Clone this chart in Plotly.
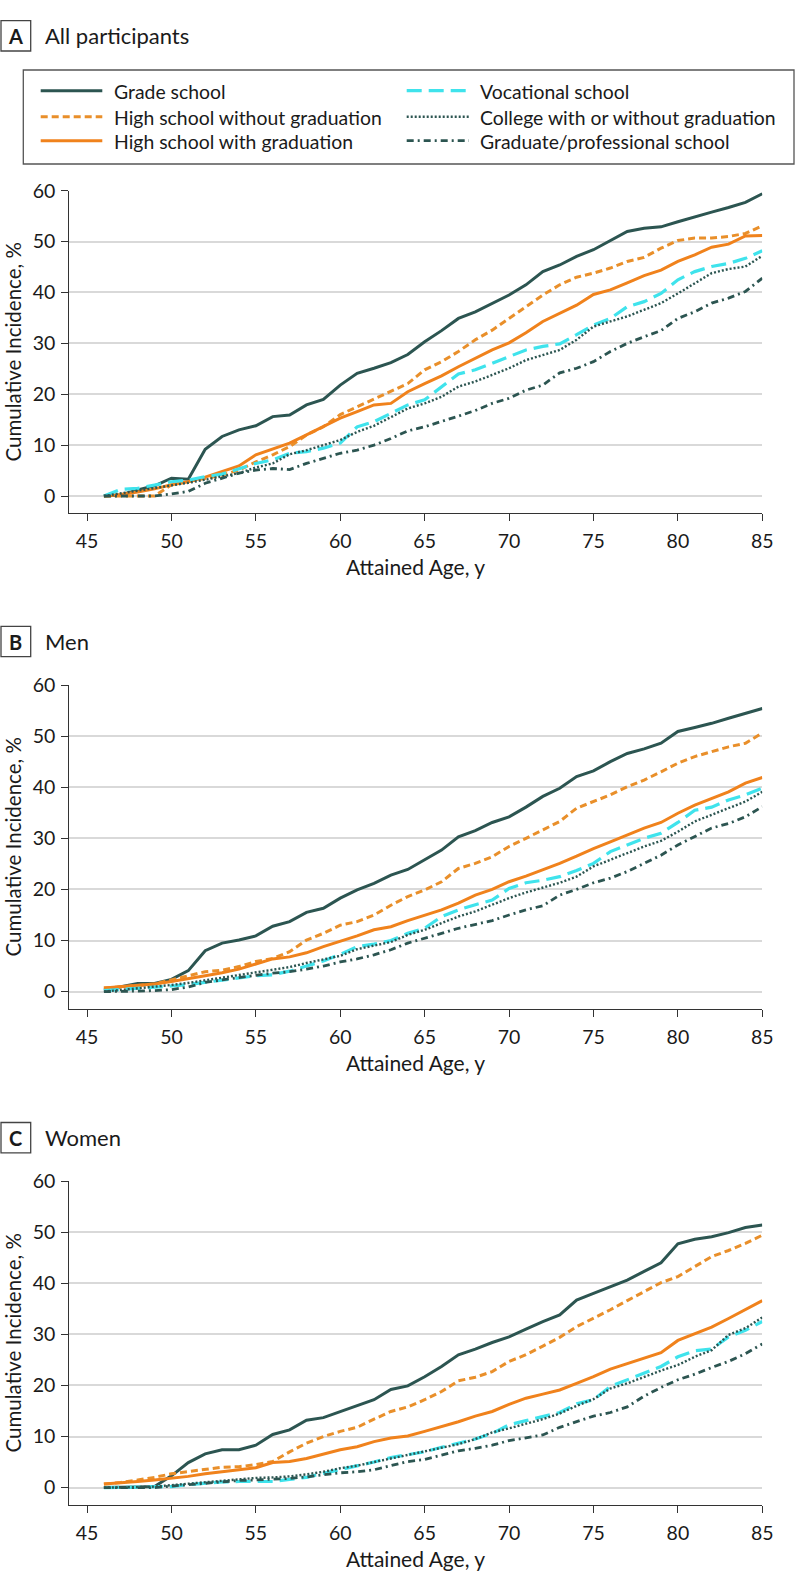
import plotly.graph_objects as go

W, H = 798, 1586

# ---------------- data ----------------
ages = list(range(46, 86))
x_ticks = [45, 50, 55, 60, 65, 70, 75, 80, 85]
y_ticks = [0, 10, 20, 30, 40, 50, 60]

series_names = [
    "Grade school",
    "High school without graduation",
    "High school with graduation",
    "Vocational school",
    "College with or without graduation",
    "Graduate/professional school",
]

# Panel A: All participants
grade_A = [0, 0.2, 1.2, 2.0, 3.5, 3.3, 9.2, 11.7, 13.0, 13.8,
           15.6, 15.9, 17.9, 19.0, 21.8, 24.1, 25.1, 26.2, 27.8, 30.3,
           32.5, 34.9, 36.2, 37.9, 39.5, 41.5, 44.1, 45.4, 47.1, 48.4,
           50.2, 52.0, 52.6, 52.9, 53.9, 54.9, 55.8, 56.7, 57.7, 59.4]
hs_no_A = [0, 0, 0, 0, 2.2, 2.8, 3.5, 4.1, 5.1, 6.7,
           8.1, 9.7, 12.0, 13.6, 16.0, 17.5, 19.0, 20.5, 22.1, 24.8,
           26.4, 28.4, 30.7, 32.6, 34.9, 37.2, 39.5, 41.5, 43.0, 43.8,
           44.8, 46.1, 46.9, 48.7, 50.2, 50.7, 50.7, 51.0, 51.6, 53.1]
hs_yes_A = [0, 0.3, 0.8, 1.4, 2.2, 2.8, 3.7, 4.8, 5.9, 8.1,
            9.2, 10.4, 12.0, 13.6, 15.3, 16.6, 17.9, 18.2, 20.5, 22.1,
            23.6, 25.4, 27.1, 28.7, 30.1, 32.1, 34.3, 35.9, 37.5, 39.6,
            40.5, 41.9, 43.3, 44.4, 46.1, 47.4, 48.9, 49.5, 51.1, 51.2]
voc_A = [0, 1.3, 1.5, 2.2, 2.8, 3.1, 3.8, 4.3, 5.4, 6.4,
         7.1, 8.4, 8.7, 9.4, 10.4, 13.6, 14.6, 16.3, 17.9, 18.9,
         21.5, 24.0, 24.8, 26.1, 27.4, 28.7, 29.4, 29.9, 31.7, 33.6,
         34.9, 37.2, 38.2, 39.8, 42.5, 44.1, 45.1, 45.7, 46.7, 48.2]
col_A = [0, 0.5, 1.0, 1.5, 2.0, 2.6, 3.2, 3.8, 4.5, 5.6,
         6.4, 8.2, 9.0, 10.0, 11.0, 12.6, 13.8, 15.5, 17.2, 18.2,
         19.5, 21.5, 22.5, 23.8, 25.1, 26.7, 27.7, 28.7, 30.7, 33.3,
         34.3, 35.3, 36.6, 37.9, 39.8, 41.8, 43.8, 44.6, 45.1, 47.2]
grad_A = [0, 0, 0, 0, 0.4, 0.9, 2.5, 3.5, 4.5, 5.1,
          5.4, 5.2, 6.4, 7.4, 8.4, 9.0, 10.0, 11.3, 12.8, 13.6,
          14.6, 15.7, 16.8, 18.2, 19.2, 20.8, 21.8, 24.2, 25.1, 26.4,
          28.4, 30.0, 31.3, 32.5, 34.9, 36.2, 37.9, 38.9, 40.2, 42.8]

# Panel B: Men
grade_B = [0.3, 1.0, 1.6, 1.6, 2.4, 4.1, 8.0, 9.5, 10.1, 10.9,
           12.8, 13.7, 15.5, 16.3, 18.3, 19.9, 21.2, 22.8, 23.9, 25.8,
           27.7, 30.3, 31.5, 33.1, 34.2, 36.1, 38.2, 39.8, 42.1, 43.2,
           45.0, 46.6, 47.5, 48.6, 50.9, 51.7, 52.5, 53.5, 54.5, 55.4]
hs_no_B = [0.7, 0.9, 1.2, 1.5, 2.3, 3.1, 3.9, 4.2, 4.9, 5.9,
           6.5, 7.8, 10.1, 11.4, 13.0, 13.7, 15.0, 16.9, 18.6, 19.9,
           21.5, 24.1, 25.1, 26.4, 28.4, 30.0, 31.6, 33.3, 35.9, 37.2,
           38.5, 40.1, 41.4, 43.0, 44.7, 46.0, 47.0, 47.9, 48.6, 50.6]
hs_yes_B = [0.7, 1.0, 1.2, 1.5, 2.0, 2.5, 3.1, 3.7, 4.4, 5.4,
            6.4, 6.8, 7.6, 8.8, 9.8, 10.9, 12.1, 12.7, 13.9, 15.0,
            16.0, 17.3, 18.9, 20.0, 21.5, 22.6, 23.8, 25.1, 26.5, 28.0,
            29.3, 30.7, 32.0, 33.1, 34.9, 36.5, 37.8, 39.1, 40.8, 41.9]
voc_B = [0.2, 0.4, 0.6, 0.8, 1.1, 1.4, 1.8, 2.2, 2.7, 3.1,
         3.3, 4.0, 5.0, 6.0, 7.3, 8.8, 9.3, 10.0, 11.4, 12.4,
         14.7, 16.0, 17.0, 17.9, 20.2, 21.3, 21.8, 22.5, 23.7, 25.1,
         27.4, 28.7, 30.0, 31.0, 33.1, 35.5, 36.1, 37.5, 38.5, 39.8]
col_B = [0, 0.3, 0.7, 1.0, 1.3, 1.7, 2.2, 2.7, 3.3, 3.8,
         4.3, 4.8, 5.6, 6.3, 7.0, 8.3, 9.0, 9.7, 11.1, 12.1,
         13.4, 14.7, 15.7, 17.0, 18.3, 19.4, 20.4, 21.3, 22.5, 24.5,
         25.8, 27.1, 28.4, 29.5, 31.3, 33.3, 34.6, 35.9, 37.2, 39.1]
grad_B = [0, 0, 0.1, 0.2, 0.4, 0.9, 1.8, 2.3, 2.8, 3.2,
          3.6, 3.9, 4.4, 5.0, 5.8, 6.4, 7.2, 8.2, 9.5, 10.4,
          11.4, 12.4, 13.2, 13.9, 15.0, 16.0, 16.8, 18.9, 20.0, 21.3,
          22.2, 23.5, 25.1, 26.7, 28.7, 30.3, 32.0, 32.9, 34.2, 36.2]

# Panel C: Women
grade_C = [0, 0, 0.1, 0.2, 2.3, 4.9, 6.6, 7.4, 7.4, 8.3,
           10.4, 11.3, 13.2, 13.7, 14.9, 16.0, 17.2, 19.2, 19.9, 21.7,
           23.7, 26.0, 27.1, 28.4, 29.5, 31.0, 32.5, 33.8, 36.7, 38.0,
           39.3, 40.6, 42.3, 44.0, 47.7, 48.6, 49.1, 49.9, 50.9, 51.4]
hs_no_C = [0.7, 1.0, 1.5, 2.0, 2.7, 3.1, 3.6, 4.0, 4.1, 4.5,
           5.1, 7.0, 8.7, 10.0, 11.0, 11.8, 13.4, 14.9, 15.8, 17.2,
           18.8, 20.9, 21.6, 22.7, 24.7, 26.0, 27.7, 29.4, 31.5, 33.1,
           34.8, 36.6, 38.3, 40.1, 41.3, 43.2, 45.2, 46.4, 47.8, 49.4]
hs_yes_C = [0.7, 0.9, 1.2, 1.5, 1.8, 2.2, 2.7, 3.1, 3.5, 3.9,
            4.9, 5.1, 5.7, 6.6, 7.4, 8.0, 9.0, 9.7, 10.1, 11.0,
            11.9, 12.9, 14.0, 14.9, 16.3, 17.5, 18.3, 19.1, 20.4, 21.7,
            23.2, 24.3, 25.3, 26.4, 28.8, 30.1, 31.4, 33.1, 34.8, 36.6]
voc_C = [0, 0, 0.1, 0.2, 0.2, 0.6, 0.9, 1.1, 1.2, 1.2,
         1.2, 1.6, 2.0, 2.8, 3.5, 4.2, 5.0, 5.9, 6.4, 7.0,
         7.9, 8.7, 9.5, 10.6, 12.3, 13.1, 13.9, 14.7, 16.4, 17.2,
         19.8, 21.1, 22.5, 23.7, 25.6, 26.8, 27.1, 29.5, 30.8, 32.5]
col_C = [0, 0, 0.1, 0.2, 0.5, 0.8, 1.1, 1.3, 1.6, 1.9,
         2.0, 2.2, 2.6, 3.1, 3.8, 4.3, 5.0, 5.7, 6.4, 7.0,
         7.7, 8.5, 9.5, 10.8, 11.6, 12.5, 13.4, 14.5, 16.0, 17.3,
         19.4, 20.4, 21.7, 22.9, 24.0, 25.6, 26.9, 29.9, 31.2, 33.3]
grad_C = [0, 0, 0, 0, 0.3, 0.6, 0.9, 1.2, 1.4, 1.5,
          1.6, 1.8, 2.1, 2.5, 2.9, 3.1, 3.5, 4.3, 5.1, 5.5,
          6.4, 7.2, 7.7, 8.3, 9.2, 9.8, 10.3, 11.8, 12.9, 14.0,
          14.7, 15.8, 17.9, 19.6, 21.1, 22.2, 23.5, 24.7, 26.2, 28.1]

panel_letters = ["A", "B", "C"]
panel_titles = ["All participants", "Men", "Women"]
x_title = "Attained Age, y"
y_title = "Cumulative Incidence, %"
panel_data = [
    [grade_A, hs_no_A, hs_yes_A, voc_A, col_A, grad_A],
    [grade_B, hs_no_B, hs_yes_B, voc_B, col_B, grad_B],
    [grade_C, hs_no_C, hs_yes_C, voc_C, col_C, grad_C],
]

# ---------------- styling ----------------
FONT = "Lato"
TXT = "#1a1a1a"
DARK = "#2c5551"
ORANGE_D = "#e98f2a"
ORANGE = "#f0821c"
CYAN = "#3fe3ec"
AX = "#333333"
GRID = "#d9d9d9"

line_styles = [
    dict(color=DARK, width=3.0, dash="solid"),
    dict(color=ORANGE_D, width=3.0, dash="7px,4px"),
    dict(color=ORANGE, width=3.0, dash="solid"),
    dict(color=CYAN, width=3.2, dash="15px,7px"),
    dict(color=DARK, width=2.4, dash="2px,2px"),
    dict(color=DARK, width=2.8, dash="7px,4px,2px,4px"),
]

def fx(px):
    return px / W

def fy(py):
    return 1 - py / H

X_LEFT, X_RIGHT = 69.3, 762.3
# (top of plot = 60, bottom = x-axis line, label-row centre) per panel, in px
panel_px = [(190.7, 513.3, 35.8), (685.0, 1009.0, 641.5), (1181.0, 1505.0, 1137.7)]

fig = go.Figure()
layout = dict(
    width=W, height=H,
    margin=dict(l=0, r=0, t=0, b=0),
    paper_bgcolor="white", plot_bgcolor="white",
    font=dict(family=FONT, color=TXT),
    showlegend=False,
    shapes=[], annotations=[],
)

for p in range(3):
    top, bot, lab_y = panel_px[p]
    sfx = "" if p == 0 else str(p + 1)
    xa, ya = "x" + sfx, "y" + sfx
    for s in range(6):
        fig.add_trace(go.Scatter(
            x=ages, y=panel_data[p][s], mode="lines", name=series_names[s],
            line=line_styles[s], xaxis=xa, yaxis=ya, hoverinfo="x+y+name",
        ))
    layout["xaxis" + sfx] = dict(
        domain=[fx(X_LEFT), fx(X_RIGHT)], range=[43.95, 85], anchor=ya,
        tickmode="array", tickvals=x_ticks, ticktext=[str(v) for v in x_ticks],
        ticks="outside", ticklen=7, tickwidth=1.3, tickcolor=AX,
        showline=True, linecolor=AX, linewidth=1.3,
        showgrid=False, zeroline=False, automargin=False,
        tickfont=dict(size=19.5, color=TXT, family=FONT),
        ticklabelstandoff=3,
    )
    layout["yaxis" + sfx] = dict(
        domain=[fy(bot), fy(top)], range=[-3.4, 60], anchor=xa,
        tickmode="array", tickvals=y_ticks, ticktext=[str(v) for v in y_ticks],
        ticks="outside", ticklen=7, tickwidth=1.3, tickcolor=AX,
        showline=True, linecolor=AX, linewidth=1.3,
        showgrid=True, gridcolor=GRID, gridwidth=1.5,
        zeroline=False, automargin=False,
        tickfont=dict(size=19.5, color=TXT, family=FONT),
        ticklabelstandoff=2,
    )
    # axis titles
    layout["annotations"].append(dict(
        xref="paper", yref="paper", x=fx((X_LEFT + X_RIGHT) / 2), y=fy(bot + 53.4),
        xanchor="center", yanchor="middle", showarrow=False,
        text=x_title, font=dict(size=21, color=TXT, family=FONT),
    ))
    layout["annotations"].append(dict(
        xref="paper", yref="paper", x=fx(12.5), y=fy((top + bot) / 2),
        xanchor="center", yanchor="middle", showarrow=False, textangle=-90,
        text=y_title, font=dict(size=20.5, color=TXT, family=FONT),
    ))
    # panel label box + title
    box_top = lab_y - 15.2
    box_bot = lab_y + 15.2
    layout["shapes"].append(dict(
        type="rect", xref="paper", yref="paper",
        x0=fx(1), x1=fx(30.7), y0=fy(box_bot), y1=fy(box_top),
        line=dict(color="#444444", width=1.3), fillcolor="white",
    ))
    layout["annotations"].append(dict(
        xref="paper", yref="paper", x=fx(15.8), y=fy(lab_y),
        xanchor="center", yanchor="middle", showarrow=False,
        text="<b>%s</b>" % panel_letters[p], font=dict(size=20, color=TXT, family=FONT),
    ))
    layout["annotations"].append(dict(
        xref="paper", yref="paper", x=fx(42.7), y=fy(lab_y),
        xanchor="left", yanchor="middle", showarrow=False,
        text=panel_titles[p], font=dict(size=22, color=TXT, family=FONT),
    ))

# ---------------- legend (drawn as key box) ----------------
layout["shapes"].append(dict(
    type="rect", xref="paper", yref="paper",
    x0=fx(23.3), x1=fx(794), y0=fy(164), y1=fy(70),
    line=dict(color="#555555", width=1.3),
))
leg_cols = [(40.7, 102.3, 111.7), (406.7, 469.0, 478.3)]
leg_rows = [90.7, 116.7, 140.7]
leg_pos = [(0, 0), (0, 1), (0, 2), (1, 0), (1, 1), (1, 2)]
for s in range(6):
    c, r = leg_pos[s]
    x0, x1, xt = leg_cols[c]
    yy = leg_rows[r]
    st = line_styles[s]
    layout["shapes"].append(dict(
        type="line", xref="paper", yref="paper",
        x0=fx(x0), x1=fx(x1), y0=fy(yy), y1=fy(yy),
        line=dict(color=st["color"], width=st["width"], dash=st["dash"]),
    ))
    layout["annotations"].append(dict(
        xref="paper", yref="paper", x=fx(xt), y=fy(yy + 1),
        xanchor="left", yanchor="middle", showarrow=False,
        text=series_names[s], font=dict(size=19.4, color=TXT, family=FONT),
    ))

fig.update_layout(**layout)
# remove the browser's default 8px body margin so the figure sits at the page origin
fig.write_html("out.html", config={"displayModeBar": False},
               post_script="document.body.style.margin='0px';")
